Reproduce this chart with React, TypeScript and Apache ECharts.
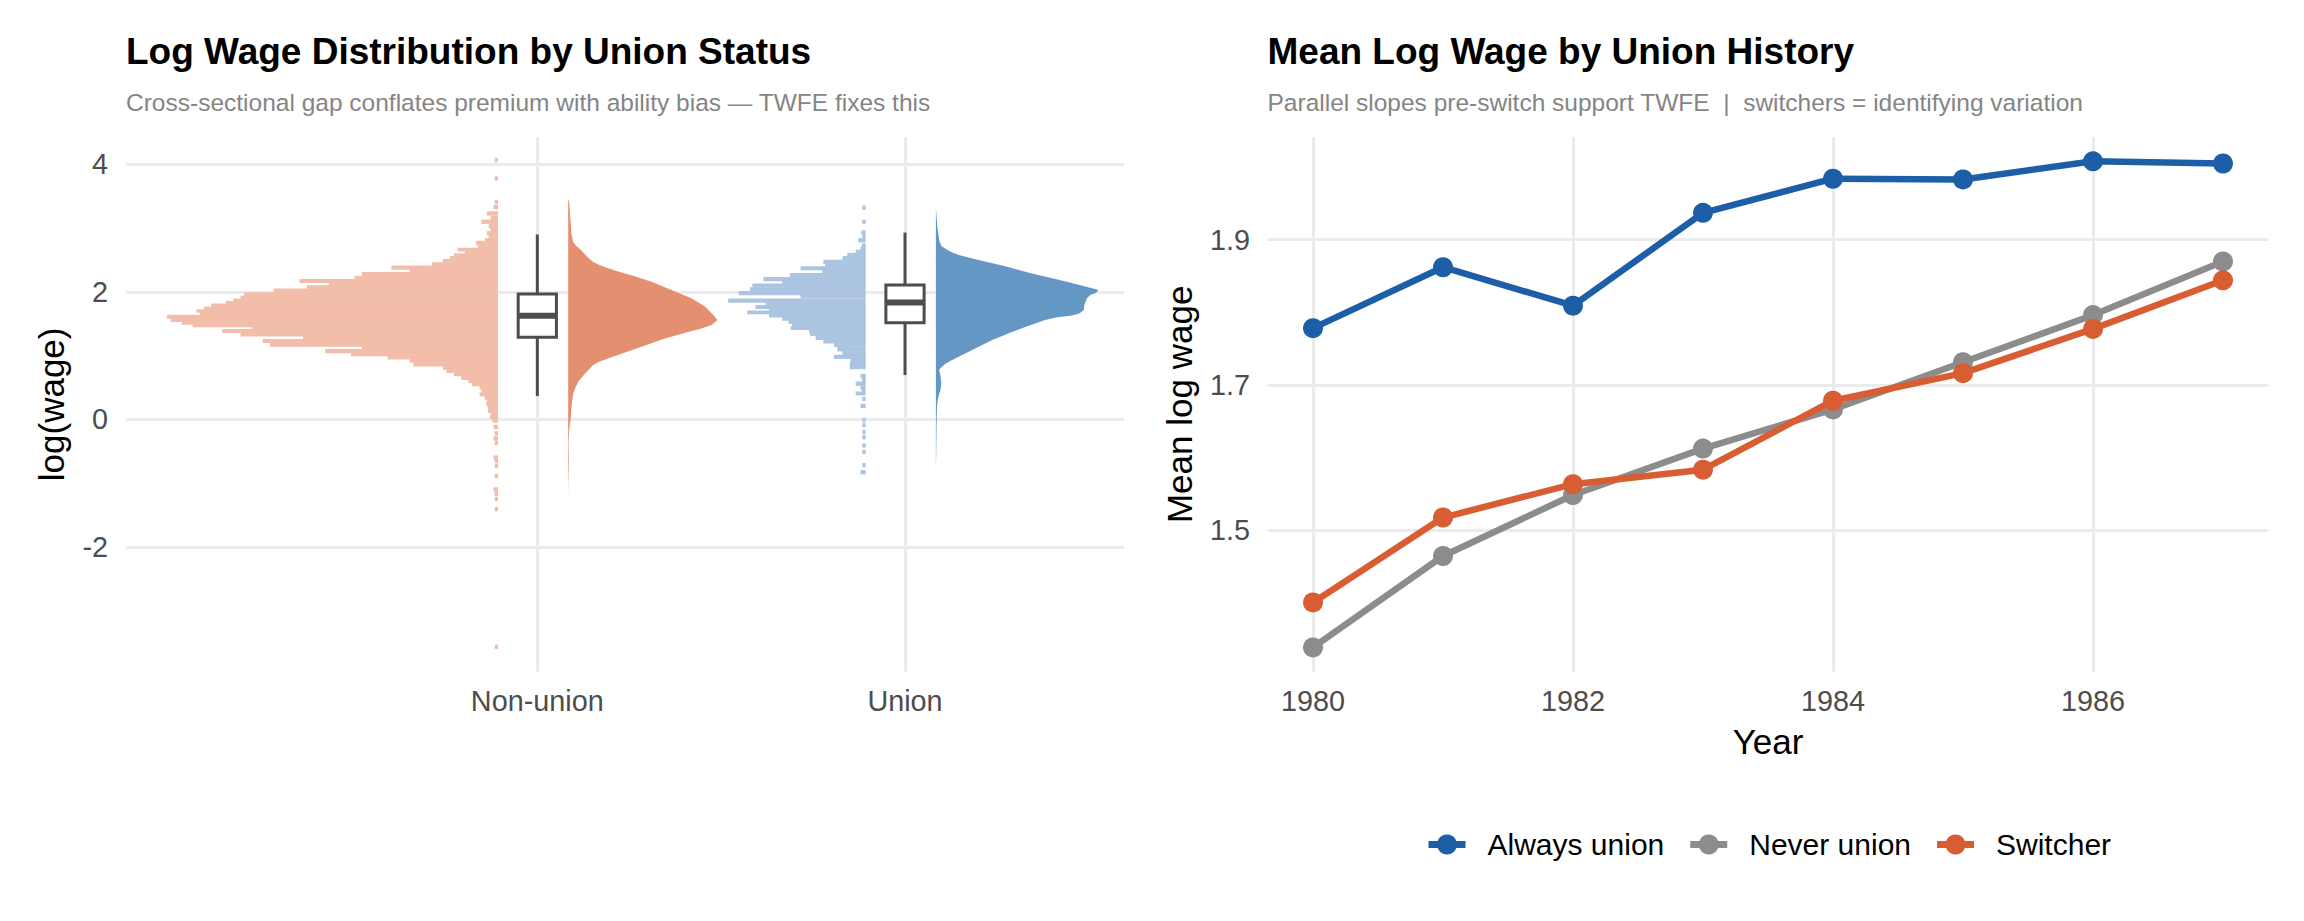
import React, { useEffect, useRef } from "react";
import * as echarts from "echarts";

const FONT = '"Liberation Sans", Arial, Helvetica, sans-serif';

// ---------- Left panel data ----------
const groupCategories = ["Non-union", "Union"];
const leftYTicks = [-2, 0, 2, 4];

// dot-plot rows: log wage of the row and stacked width (in category units)
const nonUnionDotY = [
  4.07, 3.78, 3.41, 3.33, 3.23, 3.16, 3.1, 3.03, 2.97, 2.92, 2.86, 2.82, 2.77, 2.71, 2.66, 2.62,
  2.58, 2.53, 2.49, 2.43, 2.38, 2.33, 2.28, 2.22, 2.17, 2.12, 2.07, 2.02, 1.96, 1.91, 1.87, 1.83,
  1.79, 1.74, 1.7, 1.66, 1.61, 1.56, 1.51, 1.47, 1.43, 1.39, 1.33, 1.28, 1.23, 1.17, 1.12, 1.07,
  1.02, 0.97, 0.92, 0.86, 0.81, 0.76, 0.71, 0.65, 0.6, 0.55, 0.5, 0.44, 0.39, 0.34, 0.29, 0.24,
  0.19, 0.13, 0.08, 0.03, -0.02, -0.12, -0.22, -0.3, -0.37, -0.6, -0.65, -0.73, -0.89, -1.1,
  -1.17, -1.25, -1.41, -3.57,
];
const nonUnionDotW = [
  0.009, 0.009, 0.009, 0.012, 0.03, 0.02, 0.045, 0.025, 0.02, 0.03, 0.025, 0.035, 0.06, 0.055,
  0.11, 0.09, 0.12, 0.13, 0.15, 0.18, 0.29, 0.24, 0.37, 0.39, 0.54, 0.46, 0.52, 0.61, 0.69, 0.7,
  0.72, 0.74, 0.78, 0.8, 0.82, 0.81, 0.9, 0.89, 0.86, 0.83, 0.67, 0.75, 0.7, 0.53, 0.64, 0.62,
  0.37, 0.47, 0.4, 0.3, 0.24, 0.23, 0.15, 0.14, 0.12, 0.1, 0.08, 0.07, 0.05, 0.045, 0.05, 0.036,
  0.03, 0.032, 0.028, 0.027, 0.02, 0.022, 0.015, 0.012, 0.009, 0.012, 0.009, 0.012, 0.009, 0.009,
  0.009, 0.012, 0.009, 0.009, 0.009, 0.009,
];
const unionDotY = [
  3.32, 3.1, 2.93, 2.87, 2.81, 2.73, 2.68, 2.63, 2.58, 2.53, 2.47, 2.42, 2.37, 2.32, 2.26, 2.2,
  2.15, 2.1, 2.04, 1.98, 1.93, 1.86, 1.81, 1.76, 1.72, 1.68, 1.63, 1.58, 1.53, 1.48, 1.43, 1.39,
  1.34, 1.28, 1.22, 1.17, 1.1, 1.04, 0.98, 0.93, 0.87, 0.82, 0.68, 0.62, 0.56, 0.49, 0.45, 0.41,
  0.32, 0.21, -0.01, -0.09, -0.2, -0.28, -0.41, -0.51, -0.72, -0.83,
];
const unionDotW = [
  0.009, 0.009, 0.012, 0.009, 0.02, 0.01, 0.014, 0.027, 0.05, 0.063, 0.115, 0.11, 0.177, 0.118,
  0.206, 0.278, 0.227, 0.308, 0.315, 0.345, 0.177, 0.374, 0.272, 0.3, 0.263, 0.322, 0.263, 0.227,
  0.21, 0.2, 0.204, 0.154, 0.151, 0.136, 0.115, 0.086, 0.077, 0.063, 0.086, 0.041, 0.043, 0.043,
  0.014, 0.01, 0.027, 0.014, 0.01, 0.027, 0.009, 0.014, 0.009, 0.009, 0.009, 0.009, 0.009, 0.009,
  0.009, 0.014,
];

// half-eye density profiles: log wage and slab width (category units)
const nonUnionDensY = [
  3.47, 3.4, 3.23, 3.07, 2.9, 2.78, 2.72, 2.65, 2.56, 2.47, 2.42, 2.37, 2.31, 2.26, 2.16, 2.03,
  1.9, 1.77, 1.64, 1.56, 1.48, 1.42, 1.37, 1.27, 1.16, 1.03, 0.96, 0.9, 0.84, 0.77, 0.68, 0.59,
  0.5, 0.41, 0.3, 0.2, 0.02, -0.16, -0.4, -0.6, -0.9, -1.21,
];
const nonUnionDensW = [
  0, 0.003, 0.005, 0.007, 0.009, 0.014, 0.022, 0.036, 0.05, 0.068, 0.085, 0.109, 0.14, 0.172,
  0.227, 0.281, 0.335, 0.372, 0.394, 0.406, 0.39, 0.36, 0.326, 0.263, 0.209, 0.145, 0.11, 0.082,
  0.066, 0.054, 0.04, 0.027, 0.02, 0.014, 0.011, 0.009, 0.007, 0.003, 0.001, 0.002, 0.001, 0,
];
const unionDensY = [
  3.31, 3.1, 3.02, 2.81, 2.72, 2.68, 2.63, 2.58, 2.5, 2.4, 2.29, 2.19, 2.11, 2.05, 2.03, 1.99,
  1.95, 1.9, 1.8, 1.71, 1.66, 1.63, 1.6, 1.56, 1.45, 1.35, 1.24, 1.11, 0.98, 0.92, 0.87, 0.8,
  0.77, 0.7, 0.56, 0.45, 0.4, 0.3, 0.19, -0.07, -0.48, -0.8,
];
const unionDensW = [
  0, 0.003, 0.004, 0.009, 0.015, 0.025, 0.04, 0.062, 0.116, 0.189, 0.261, 0.334, 0.388, 0.43,
  0.442, 0.436, 0.42, 0.411, 0.404, 0.402, 0.39, 0.37, 0.33, 0.297, 0.243, 0.198, 0.152, 0.107,
  0.062, 0.04, 0.025, 0.012, 0.009, 0.012, 0.015, 0.012, 0.009, 0.005, 0.003, 0.002, 0.001, 0,
];

// box statistics: min, q1, median, q3, max
const nonUnionBox = [0.365, 1.286, 1.625, 1.965, 2.9];
const unionBox = [0.695, 1.515, 1.835, 2.107, 2.93];

// ---------- Right panel data ----------
const years = [1980, 1981, 1982, 1983, 1984, 1985, 1986, 1987];
const alwaysUnion = [1.778, 1.862, 1.809, 1.937, 1.984, 1.983, 2.008, 2.005];
const neverUnion = [1.338, 1.464, 1.548, 1.612, 1.666, 1.731, 1.796, 1.87];
const switcher = [1.4, 1.517, 1.563, 1.583, 1.678, 1.716, 1.777, 1.844];
const yearTicks = [1980, 1982, 1984, 1986];
const rightYTicks = [1.5, 1.7, 1.9];
const seriesNames = ["Always union", "Never union", "Switcher"];

// ---------- styling ----------
const NON_UNION_DOT = "#F2BDA9";
const UNION_DOT = "#AAC4E1";
const NON_UNION_DENS = "#E58F71";
const UNION_DENS = "#6597C4";
const BOX_COLOR = "#4D4D4D";
const LINE_COLORS = ["#1D5FA7", "#8C8C8C", "#D95D32"];
const GRID_COLOR = "#EBEBEB";
const DOT_OFFSET = 0.107;
const DENS_OFFSET = 0.084;
const BOX_HALF = 0.052;
const ROW_HALF = 0.027;

function dotRenderer(ys: number[], ws: number[], center: number, color: string) {
  return (params: any, api: any) => {
    const i = params.dataIndex;
    const y = ys[i];
    const w = ws[i];
    const up = i > 0 ? Math.min((ys[i - 1] - y) / 2, ROW_HALF) : ROW_HALF;
    const down = i < ys.length - 1 ? Math.min((y - ys[i + 1]) / 2, ROW_HALF) : ROW_HALF;
    const right = center - DOT_OFFSET;
    const p1 = api.coord([right - w, y + up]);
    const p2 = api.coord([right, y - down]);
    return {
      type: "rect",
      shape: {
        x: p1[0],
        y: p1[1] - 0.45,
        width: p2[0] - p1[0],
        height: p2[1] - p1[1] + 0.9,
      },
      style: { fill: color },
    };
  };
}

function densityRenderer(ys: number[], ws: number[], center: number, color: string) {
  return (_params: any, api: any) => {
    const base = center + DENS_OFFSET;
    const pts: number[][] = [];
    pts.push(api.coord([base, ys[0]]));
    for (let i = 0; i < ys.length; i++) pts.push(api.coord([base + ws[i], ys[i]]));
    pts.push(api.coord([base, ys[ys.length - 1]]));
    return {
      type: "polygon",
      shape: { points: pts },
      style: { fill: color },
    };
  };
}

function boxRenderer(stats: number[][]) {
  return (params: any, api: any) => {
    const center = params.dataIndex + 1;
    const [mn, q1, med, q3, mx] = stats[params.dataIndex];
    const top = api.coord([center, mx]);
    const bot = api.coord([center, mn]);
    const b1 = api.coord([center - BOX_HALF, q3]);
    const b2 = api.coord([center + BOX_HALF, q1]);
    const m1 = api.coord([center - BOX_HALF, med]);
    const m2 = api.coord([center + BOX_HALF, med]);
    return {
      type: "group",
      children: [
        {
          type: "line",
          shape: { x1: top[0], y1: top[1], x2: top[0], y2: b1[1] },
          style: { stroke: BOX_COLOR, lineWidth: 3 },
        },
        {
          type: "line",
          shape: { x1: bot[0], y1: b2[1], x2: bot[0], y2: bot[1] },
          style: { stroke: BOX_COLOR, lineWidth: 3 },
        },
        {
          type: "rect",
          shape: { x: b1[0], y: b1[1], width: b2[0] - b1[0], height: b2[1] - b1[1] },
          style: { fill: "#FFFFFF", stroke: BOX_COLOR, lineWidth: 3 },
        },
        {
          type: "line",
          shape: { x1: m1[0], y1: m1[1], x2: m2[0], y2: m2[1] },
          style: { stroke: BOX_COLOR, lineWidth: 6 },
        },
      ],
    };
  };
}

const axisLabelStyle = { color: "#4D4D4D", fontSize: 28.8, fontFamily: FONT };
const axisNameStyle = { color: "#000000", fontSize: 35, fontFamily: FONT };

export default function App() {
  const ref = useRef<HTMLDivElement>(null);

  useEffect(() => {
    if (!ref.current) return;
    const chart = echarts.init(ref.current, undefined, { renderer: "svg" });

    const option: any = {
      animation: false,
      backgroundColor: "#FFFFFF",
      title: [
        {
          text: "Log Wage Distribution by Union Status",
          left: 126,
          top: 33,
          padding: 0,
          textStyle: { fontSize: 37, fontWeight: "bold", color: "#000", fontFamily: FONT },
        },
        {
          text: "Cross-sectional gap conflates premium with ability bias — TWFE fixes this",
          left: 126,
          top: 90,
          padding: 0,
          textStyle: { fontSize: 24.5, fontWeight: "normal", color: "#858585", fontFamily: FONT },
        },
        {
          text: "Mean Log Wage by Union History",
          left: 1267.5,
          top: 33,
          padding: 0,
          textStyle: { fontSize: 37, fontWeight: "bold", color: "#000", fontFamily: FONT },
        },
        {
          text: "Parallel slopes pre-switch support TWFE  |  switchers = identifying variation",
          left: 1267.5,
          top: 90,
          padding: 0,
          textStyle: { fontSize: 24.5, fontWeight: "normal", color: "#858585", fontFamily: FONT },
        },
      ],
      legend: {
        data: seriesNames,
        left: 1425,
        top: 829.5,
        padding: 0,
        itemWidth: 37,
        itemHeight: 25,
        itemGap: 22.5,
        lineStyle: { width: 7 },
        textStyle: { fontSize: 30, color: "#000", fontFamily: FONT, padding: [0, 0, 0, 17] },
      },
      grid: [
        { left: 126, top: 137, width: 998, height: 534.7 },
        { left: 1267.5, top: 137, width: 1001, height: 534.7 },
      ],
      xAxis: [
        {
          gridIndex: 0,
          type: "value",
          min: -0.1186,
          max: 2.5956,
          axisLine: { show: false },
          axisTick: { show: false, customValues: [1, 2] },
          axisLabel: {
            customValues: [1, 2],
            formatter: (v: number) => groupCategories[Math.round(v) - 1] ?? "",
            margin: 14.5,
            ...axisLabelStyle,
          },
          splitLine: { show: true, lineStyle: { color: GRID_COLOR, width: 3 } },
        },
        {
          gridIndex: 1,
          type: "value",
          min: 1979.65,
          max: 1987.35,
          name: "Year",
          nameLocation: "middle",
          nameGap: 52,
          nameTextStyle: axisNameStyle,
          axisLine: { show: false },
          axisTick: { show: false, customValues: yearTicks },
          axisLabel: {
            customValues: yearTicks,
            formatter: (v: number) => String(v),
            margin: 14.5,
            ...axisLabelStyle,
          },
          splitLine: { show: true, lineStyle: { color: GRID_COLOR, width: 3 } },
        },
      ],
      yAxis: [
        {
          gridIndex: 0,
          type: "value",
          min: -3.96,
          max: 4.43,
          name: "log(wage)",
          nameLocation: "middle",
          nameRotate: 90,
          nameGap: 57,
          nameTextStyle: axisNameStyle,
          axisLine: { show: false },
          axisTick: { show: false, customValues: leftYTicks },
          axisLabel: {
            customValues: leftYTicks,
            formatter: (v: number) => String(v),
            margin: 18,
            ...axisLabelStyle,
          },
          splitLine: { show: true, lineStyle: { color: GRID_COLOR, width: 3 } },
        },
        {
          gridIndex: 1,
          type: "value",
          min: 1.3045,
          max: 2.0415,
          name: "Mean log wage",
          nameLocation: "middle",
          nameRotate: 90,
          nameGap: 70.5,
          nameTextStyle: axisNameStyle,
          axisLine: { show: false },
          axisTick: { show: false, customValues: rightYTicks },
          axisLabel: {
            customValues: rightYTicks,
            formatter: (v: number) => v.toFixed(1),
            margin: 17.5,
            ...axisLabelStyle,
          },
          splitLine: { show: true, lineStyle: { color: GRID_COLOR, width: 3 } },
        },
      ],
      series: [
        {
          type: "custom",
          name: "nu-dots",
          xAxisIndex: 0,
          yAxisIndex: 0,
          renderItem: dotRenderer(nonUnionDotY, nonUnionDotW, 1, NON_UNION_DOT),
          data: nonUnionDotY.map((y, i) => [1 - DOT_OFFSET - nonUnionDotW[i], y]),
          z: 2,
        },
        {
          type: "custom",
          name: "u-dots",
          xAxisIndex: 0,
          yAxisIndex: 0,
          renderItem: dotRenderer(unionDotY, unionDotW, 2, UNION_DOT),
          data: unionDotY.map((y, i) => [2 - DOT_OFFSET - unionDotW[i], y]),
          z: 2,
        },
        {
          type: "custom",
          name: "nu-dens",
          xAxisIndex: 0,
          yAxisIndex: 0,
          renderItem: densityRenderer(nonUnionDensY, nonUnionDensW, 1, NON_UNION_DENS),
          data: [[1 + DENS_OFFSET, nonUnionDensY[0]]],
          z: 3,
        },
        {
          type: "custom",
          name: "u-dens",
          xAxisIndex: 0,
          yAxisIndex: 0,
          renderItem: densityRenderer(unionDensY, unionDensW, 2, UNION_DENS),
          data: [[2 + DENS_OFFSET, unionDensY[0]]],
          z: 3,
        },
        {
          type: "custom",
          name: "boxes",
          xAxisIndex: 0,
          yAxisIndex: 0,
          renderItem: boxRenderer([nonUnionBox, unionBox]),
          data: [
            [1, nonUnionBox[2]],
            [2, unionBox[2]],
          ],
          z: 4,
        },
        ...[alwaysUnion, neverUnion, switcher].map((vals, k) => ({
          type: "line",
          name: seriesNames[k],
          xAxisIndex: 1,
          yAxisIndex: 1,
          data: years.map((yr, i) => [yr, vals[i]]),
          symbol: "circle",
          symbolSize: 20,
          showSymbol: true,
          lineStyle: { width: 6.5, color: LINE_COLORS[k] },
          itemStyle: { color: LINE_COLORS[k] },
          z: 5 + k,
        })),
      ],
    };

    chart.setOption(option);
    return () => chart.dispose();
  }, []);

  return (
    <div
      ref={ref}
      style={{ position: "fixed", left: 0, top: 0, width: 2304, height: 921, background: "#fff" }}
    />
  );
}
